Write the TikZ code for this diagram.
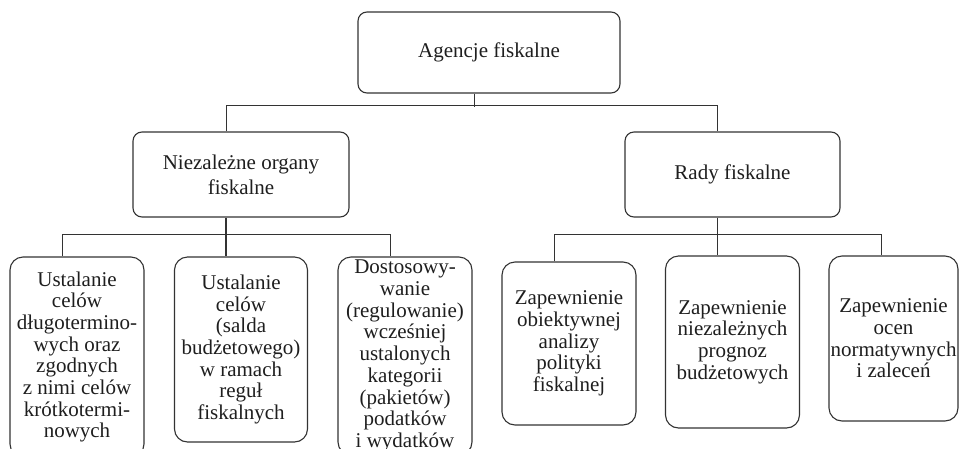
\documentclass[tikz,border=0pt]{standalone}
\usepackage{fontspec}
\setmainfont{Liberation Serif}
\usepackage{tikz}

\definecolor{inkline}{HTML}{333333}
\definecolor{inktext}{HTML}{1E1E1E}

\begin{document}
\begin{tikzpicture}[x=1pt, y=-1pt,
    box/.style={draw=inkline, line width=1.1pt, rounded corners=9pt, inner sep=0pt,
      align=center, text=inktext, font=\fontsize{21}{25}\selectfont},
    leaf/.style={box, rounded corners=13pt, minimum width=134pt, font=\fontsize{21}{21.7}\selectfont},
    link/.style={draw=inkline, line width=0.9pt},
    trunk/.style={draw=inkline, line width=1.8pt}]
    \useasboundingbox (0,0) rectangle (959,448);
    \clip (0,0) rectangle (959,448);

    % draw top levels
    \node[box, minimum width=262pt, minimum height=81pt] (agencje) at (489,52.5) {Agencje fiskalne};
    \node[box, minimum width=216pt, minimum height=85pt] (nio) at (241,174.5) {Niezależne organy\\fiskalne};
    \node[box, minimum width=215pt, minimum height=85pt] (rady) at (732.5,174.5) {Rady fiskalne};

    % draw leaves
    \node[leaf, minimum height=200pt] (ust1) at (77,357) {Ustalanie\\celów\\długotermino-\\wych oraz\\zgodnych\\z nimi celów\\krótkotermi-\\nowych};
    \node[leaf, minimum width=133pt, minimum height=185pt] (ust2) at (241,349.5) {Ustalanie\\celów\\(salda\\budżetowego)\\w ramach\\reguł\\fiskalnych};
    \node[leaf, minimum height=198pt] (dost) at (405,356) {Dostosowy-\\wanie\\(regulowanie)\\wcześniej\\ustalonych\\kategorii\\(pakietów)\\podatków\\i wydatków};
    \node[leaf, minimum height=163pt] (anal) at (569,343.5) {Zapewnienie\\obiektywnej\\analizy\\polityki\\fiskalnej};
    \node[leaf, minimum height=172pt] (prog) at (732.5,342) {Zapewnienie\\niezależnych\\prognoz\\budżetowych};
    \node[leaf, minimum width=129pt, minimum height=165pt] (ocen) at (893.5,338.5) {Zapewnienie\\ocen\\normatywnych\\i zaleceń};

    % draw connectors
    \draw[link] ([xshift=-15pt]agencje.south) -- ++(0,13);
    \draw[link] ([xshift=-15pt]nio.north) -- ++(0,-26) -| ([xshift=-15pt]rady.north);
    \draw[link] ([xshift=-15pt]ust1.north) -- ++(0,-22) -| ([xshift=-15pt]dost.north);
    \draw[link] ([xshift=-15pt]anal.north) -- ++(0,-27) -| ([xshift=-12.5pt]ocen.north);
    \draw[trunk] ([xshift=-15pt]nio.south) -- ([xshift=-15pt]ust2.north);
    \draw[trunk] ([xshift=-15pt]rady.south) -- ([xshift=-15pt]prog.north);
  \end{tikzpicture}
\end{document}
